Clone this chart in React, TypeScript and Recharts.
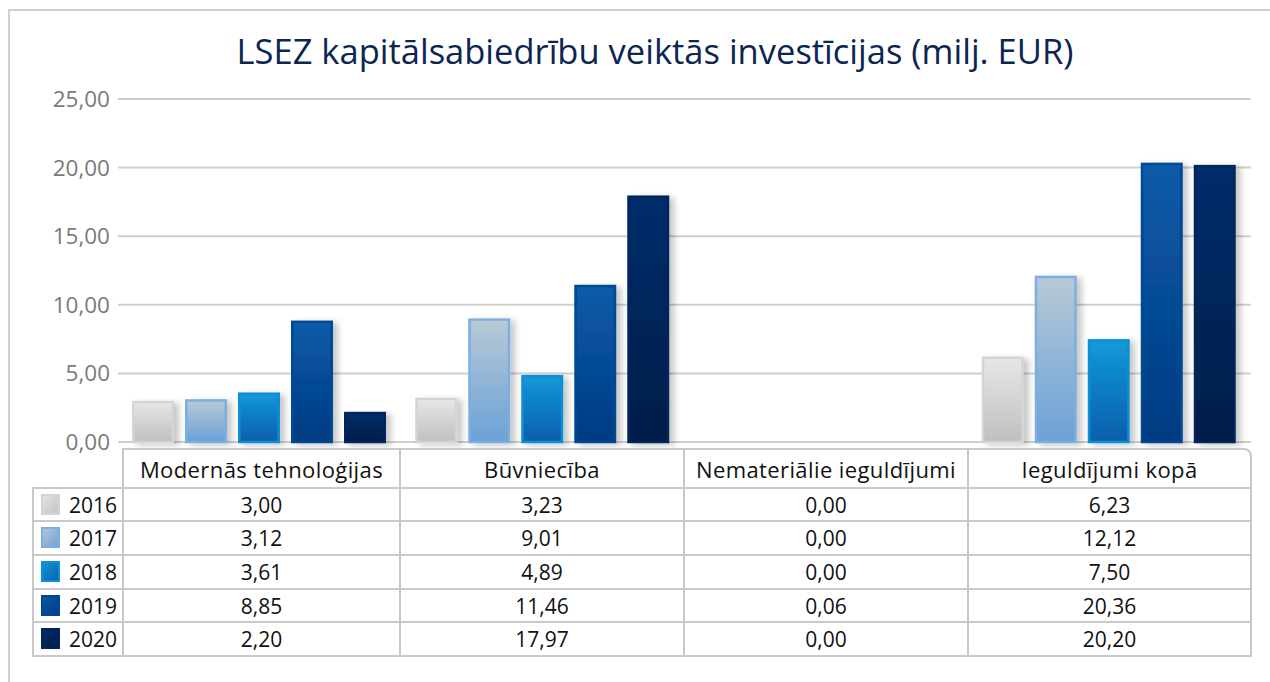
import { Bar, BarChart, CartesianGrid, XAxis, YAxis } from "recharts";

const categories = [
  "Modernās tehnoloģijas",
  "Būvniecība",
  "Nemateriālie ieguldījumi",
  "Ieguldījumi kopā",
];
const years = ["2016", "2017", "2018", "2019", "2020"];
const values2016 = [3.0, 3.23, 0.0, 6.23];
const values2017 = [3.12, 9.01, 0.0, 12.12];
const values2018 = [3.61, 4.89, 0.0, 7.5];
const values2019 = [8.85, 11.46, 0.06, 20.36];
const values2020 = [2.2, 17.97, 0.0, 20.2];
const yTicks = [0, 5, 10, 15, 20, 25];

const seriesValues = [values2016, values2017, values2018, values2019, values2020];

const SERIES_STYLE = [
  { top: "#e6e7e9", bottom: "#bebfc1", stroke: "#d3d4d6" },
  { top: "#b8c9d6", bottom: "#6aa1d8", stroke: "#7cafe0" },
  { top: "#1399d9", bottom: "#0a5dab", stroke: "#0b8fd5" },
  { top: "#0a5ba9", bottom: "#023a82", stroke: "#014893" },
  { top: "#012d6b", bottom: "#001d48", stroke: "#01265c" },
];

const FONT = "'Open Sans', Roboto, sans-serif";
const GRID = "#cfcfcf";
const TABLE_LINE = "#c9c9c9";

// table layout (page px)
const COL_X = [123, 400, 684, 968, 1251];
const LEGEND_X = 33;
const HEADER_TOP = 449;
const ROW_Y = [488, 521, 555, 589, 622, 656];

const data = categories.map((category, i) => {
  const row: Record<string, string | number> = { category };
  years.forEach((year, s) => {
    row["y" + year] = seriesValues[s][i];
  });
  return row;
});

function fmt(v: number) {
  return v.toFixed(2).replace(".", ",");
}

function BarShape(props: any) {
  const { x, y, width, height } = props;
  const s = props.seriesIndex as number;
  if (!height || height <= 0) {
    return null;
  }
  const sw = 2.5;
  return (
    <rect
      x={x + sw / 2}
      y={y + sw / 2}
      width={Math.max(0, width - sw)}
      height={Math.max(0, height - sw / 2)}
      fill={`url(#grad${s})`}
      stroke={SERIES_STYLE[s].stroke}
      strokeWidth={sw}
      filter="url(#barShadow)"
    />
  );
}

function Cell({
  left,
  top,
  width,
  height,
  children,
  radius,
  align = "center",
  header = false,
}: {
  left: number;
  top: number;
  width: number;
  height: number;
  children?: React.ReactNode;
  radius?: string;
  align?: "center" | "right";
  header?: boolean;
}) {
  return (
    <div
      style={{
        position: "absolute",
        left: left - 1,
        top: top - 1,
        width: width + 2,
        height: height + 2,
        boxSizing: "border-box",
        border: `2px solid ${TABLE_LINE}`,
        borderRadius: radius,
        display: "flex",
        alignItems: "center",
        justifyContent: align === "center" ? "center" : "flex-end",
        paddingRight: align === "right" ? 5 : 0,
        fontFamily: FONT,
        fontSize: header ? 22 : 21,
        letterSpacing: header ? 0.4 : 0,
        color: "#111",
        whiteSpace: "nowrap",
        background: "#fff",
      }}
    >
      {children}
    </div>
  );
}

export default function App() {
  return (
    <div
      style={{
        position: "absolute",
        left: 0,
        top: 0,
        width: 1270,
        height: 682,
        overflow: "hidden",
        background: "#fff",
      }}
    >
      <div
        style={{
          position: "absolute",
          left: 8,
          top: 9,
          width: 1300,
          height: 700,
          border: "2px solid #d0d0d0",
          boxSizing: "border-box",
        }}
      />
      <div
        style={{
          position: "absolute",
          left: 40,
          top: 29,
          width: 1230,
          textAlign: "center",
          fontFamily: FONT,
          fontSize: 34.5,
          color: "#0b2650",
          lineHeight: "44px",
        }}
      >
        LSEZ kapitālsabiedrību veiktās investīcijas (milj. EUR)
      </div>

      <div style={{ position: "absolute", left: 0, top: 0 }}>
        <BarChart
          width={1270}
          height={460}
          data={data}
          margin={{ top: 99, right: 19, bottom: 18, left: 58 }}
          barCategoryGap={14}
          barGap={11}
        >
          <defs>
            {SERIES_STYLE.map((st, s) => (
              <linearGradient key={s} id={`grad${s}`} x1="0" y1="0" x2="0" y2="1">
                <stop offset="0%" stopColor={st.top} />
                <stop offset="100%" stopColor={st.bottom} />
              </linearGradient>
            ))}
            <filter id="barShadow" x="-20%" y="-10%" width="150%" height="130%">
              <feDropShadow dx="5" dy="2" stdDeviation="3" floodColor="#000" floodOpacity="0.22" />
            </filter>
          </defs>
          <CartesianGrid vertical={false} stroke={GRID} strokeWidth={2} />
          <XAxis dataKey="category" hide />
          <YAxis
            width={60}
            domain={[0, 25]}
            ticks={yTicks}
            tickFormatter={fmt}
            axisLine={false}
            tickLine={false}
            tick={{ fontSize: 22.5, fill: "#7a7a7a", fontFamily: FONT }}
          />
          {years.map((year, s) => (
            <Bar
              key={year}
              dataKey={"y" + year}
              isAnimationActive={false}
              shape={(p: any) => <BarShape {...p} seriesIndex={s} />}
            />
          ))}
        </BarChart>
      </div>

      {/* data table */}
      {categories.map((c, i) => (
        <Cell
          key={c}
          left={COL_X[i]}
          top={HEADER_TOP}
          width={COL_X[i + 1] - COL_X[i]}
          height={ROW_Y[0] - HEADER_TOP}
          radius={i === categories.length - 1 ? "0 8px 0 0" : undefined}
          header
        >
          {c}
        </Cell>
      ))}
      {years.map((year, s) => (
        <div key={year}>
          <Cell
            left={LEGEND_X}
            top={ROW_Y[s]}
            width={COL_X[0] - LEGEND_X}
            height={ROW_Y[s + 1] - ROW_Y[s]}
            align="right"
          >
            <span
              style={{
                position: "absolute",
                left: 7,
                top: 5,
                width: 19,
                height: 21,
                backgroundImage: `linear-gradient(135deg, ${SERIES_STYLE[s].top}, ${SERIES_STYLE[s].bottom})`,
                boxShadow: `inset 0 0 0 2px ${SERIES_STYLE[s].stroke}`,
              }}
            />
            {year}
          </Cell>
          {categories.map((c, i) => (
            <Cell
              key={c}
              left={COL_X[i]}
              top={ROW_Y[s]}
              width={COL_X[i + 1] - COL_X[i]}
              height={ROW_Y[s + 1] - ROW_Y[s]}
            >
              {fmt(seriesValues[s][i])}
            </Cell>
          ))}
        </div>
      ))}
    </div>
  );
}
